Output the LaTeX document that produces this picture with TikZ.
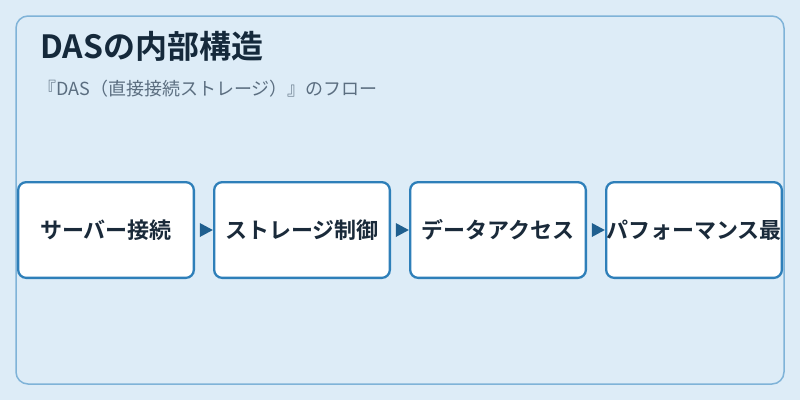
\documentclass[tikz,border=0pt]{standalone}
\usepackage{fontspec}
\newfontfamily\jp{Noto Sans CJK JP}[BoldFont={Noto Sans CJK JP Bold}]
\usetikzlibrary{shapes.geometric}
\definecolor{bg}{HTML}{DDECF7}
\definecolor{frame}{HTML}{7FB3D8}
\definecolor{boxline}{HTML}{2E7FB9}
\definecolor{arrowc}{HTML}{1F5F8F}
\definecolor{titlec}{HTML}{15293B}
\definecolor{subc}{HTML}{5B6E80}
\definecolor{boxtext}{HTML}{1A2A3A}
\tikzset{
  stepbox/.style={draw=boxline, line width=2.3pt, fill=white, rounded corners=8pt,
    minimum width=175.7pt, minimum height=95.7pt, inner sep=0pt,
    font=\jp\bfseries\fontsize{22}{26}\selectfont, text=boxtext},
  arrowtri/.style={isosceles triangle, isosceles triangle stretches, fill=arrowc,
    minimum width=14pt, minimum height=13pt, inner sep=0pt, draw=none}
}
\begin{document}
\begin{tikzpicture}[x=1pt,y=-1pt]
\useasboundingbox[fill=bg] (0,0) rectangle (800,400);
\draw[frame, line width=1.5pt, rounded corners=12pt] (16,16) rectangle (784,384);
\node[anchor=base west, font=\jp\bfseries\fontsize{32}{36}\selectfont, text=titlec, inner sep=0pt] (title) at (40,58) {DASの内部構造};
\node[anchor=base west, font=\jp\fontsize{18}{21}\selectfont, text=subc, inner sep=0pt] (sub) at (38,95) {『DAS（直接接続ストレージ）』のフロー};
\node[stepbox] (b1) at (106,230) {サーバー接続};
\node[stepbox] (b2) at (302,230) {ストレージ制御};
\node[stepbox] (b3) at (498,230) {データアクセス};
\node[stepbox] (b4) at (694,230) {パフォーマンス最};
\path (b1) -- node[arrowtri] (a1) {} (b2);
\path (b2) -- node[arrowtri] (a2) {} (b3);
\path (b3) -- node[arrowtri] (a3) {} (b4);
\end{tikzpicture}
\end{document}
